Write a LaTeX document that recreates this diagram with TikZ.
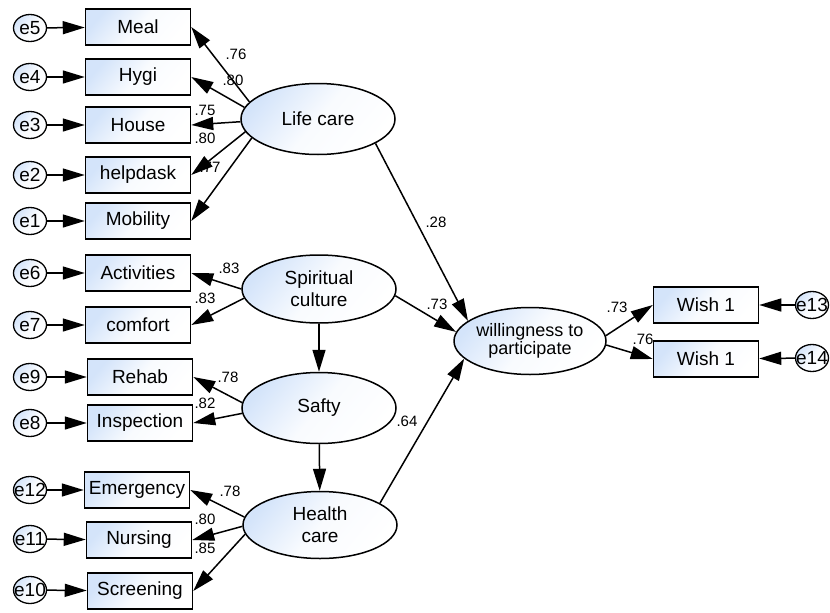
\documentclass[tikz,border=0pt]{standalone}
\usepackage{fontspec}
\setmainfont{Liberation Sans}
\usetikzlibrary{arrows.meta,shapes.geometric}
\definecolor{amosblue}{RGB}{212,228,250}
\tikzset{
  amosshade/.style={top color=amosblue, bottom color=white, middle color=amosblue!15!white,
    shading angle=50},
  obsvar/.style={draw=black, line width=1.5pt, amosshade,
    minimum width=105pt, minimum height=36pt, inner sep=0pt, font=\fontsize{19}{21}\selectfont},
  latvar/.style={ellipse, draw=black, line width=1.5pt, amosshade,
    minimum width=154pt, minimum height=71pt, inner sep=0pt, align=center,
    font=\fontsize{19}{22}\selectfont},
  errvar/.style={ellipse, draw=black, line width=1.3pt, amosshade,
    minimum width=33pt, minimum height=27pt, inner sep=0pt,
    label={[font=\fontsize{19}{21}\selectfont, inner sep=0pt]center:#1}},
  regarrow/.style={-{Triangle[length=22pt,width=13pt]}, line width=1.5pt},
  coef/.style={font=\fontsize{15}{17}\selectfont, inner sep=0pt}
}
\begin{document}
\begin{tikzpicture}[x=1pt,y=-1pt]
            \useasboundingbox (0,0) rectangle (830,613);
            
            % Latent variables
            \node [latvar] (life) at (318,119) {Life care};
            \node [latvar, minimum height=68pt] (spirit) at (319,289) {Spiritual\\culture};
            \node [latvar] (safty) at (319,408) {Safty};
            \node [latvar, minimum height=67pt] (health) at (320,525) {Health\\care};
            \node [latvar, minimum width=152pt, minimum height=67pt, font=\fontsize{18}{18}\selectfont]
              (will) at (530,341) {willingness to\\participate};
            
            % Indicators of Life care
            \node [obsvar] (meal) at (138,27) {Meal};
            \node [obsvar] (hygi) at (138,77) {Hygi};
            \node [obsvar] (house) at (138,125) {House};
            \node [obsvar] (helpdask) at (138,175) {helpdask};
            \node [obsvar] (mobility) at (138,221) {Mobility};
            
            % Indicators of Spiritual culture
            \node [obsvar] (activities) at (138,273) {Activities};
            \node [obsvar] (comfort) at (138,325) {comfort};
            
            % Indicators of Safty
            \node [obsvar] (rehab) at (140,377) {Rehab};
            \node [obsvar] (inspection) at (140,423) {Inspection};
            
            % Indicators of Health care
            \node [obsvar] (emergency) at (137,490) {Emergency};
            \node [obsvar] (nursing) at (139,540) {Nursing};
            \node [obsvar] (screening) at (140,591) {Screening};
            
            % Indicators of willingness
            \node [obsvar] (wishA) at (706,305) {Wish 1};
            \node [obsvar] (wishB) at (706,359) {Wish 1};
            
            % Error terms
            \node [errvar=e5] (e5) at (30,28) {};
            \node [errvar=e4] (e4) at (30,77) {};
            \node [errvar=e3] (e3) at (30,125) {};
            \node [errvar=e2] (e2) at (30,175) {};
            \node [errvar=e1] (e1) at (30,221) {};
            \node [errvar=e6] (e6) at (30,273) {};
            \node [errvar=e7] (e7) at (30,325) {};
            \node [errvar=e9] (e9) at (30,377) {};
            \node [errvar=e8] (e8) at (30,423) {};
            \node [errvar=e12] (e12) at (30,490) {};
            \node [errvar=e11] (e11) at (30,539) {};
            \node [errvar=e10] (e10) at (30,590) {};
            \node [errvar=e13] (e13) at (812,305) {};
            \node [errvar=e14] (e14) at (812,358) {};
            
            % Error arrows
            \foreach \e/\v in {e5/meal,e4/hygi,e3/house,e2/helpdask,e1/mobility,
                               e6/activities,e7/comfort,e9/rehab,e8/inspection,
                               e12/emergency,e11/nursing,e10/screening,e13/wishA,e14/wishB}
              \draw [regarrow] (\e) -- (\v);
            
            % Loadings of Life care
            \draw [regarrow] (life.166) -- (meal.east);
            \draw [regarrow] (life.171) -- (hygi.east);
            \draw [regarrow] (life.182) -- (house.east);
            \draw [regarrow] (life.190) -- (helpdask.east);
            \draw [regarrow] (life.196) -- (mobility.east);
            
            % Loadings of Spiritual culture, Safty, Health care
            \draw [regarrow] (spirit.180) -- (activities.east);
            \draw [regarrow] (spirit.187) -- (comfort.east);
            \draw [regarrow] (safty.176) -- (rehab.east);
            \draw [regarrow] (safty.184) -- (inspection.east);
            \draw [regarrow] (health.174) -- (emergency.east);
            \draw [regarrow] (health.181) -- (nursing.east);
            \draw [regarrow] (health.187) -- (screening.east);
            
            % Structural paths
            \draw [regarrow] (spirit) -- (safty);
            \draw [regarrow] (safty) -- (health);
            \draw [regarrow] (life.-23) -- (will.162);
            \draw [regarrow] (spirit.-5) -- (will.173);
            \draw [regarrow] (health.20) -- (will.-165);
            \draw [regarrow] (will.4) -- (wishA.west);
            \draw [regarrow] (will.-3) -- (wishB.west);
            
            % Coefficients
            \node [coef] (c1) at (236,54) {.76};
            \node [coef] (c2) at (233,80) {.80};
            \node [coef] (c3) at (205,110) {.75};
            \node [coef] (c4) at (205,138) {.80};
            \node [coef] (c5) at (210,167) {.77};
            \node [coef] (c6) at (229,268) {.83};
            \node [coef] (c7) at (205,298) {.83};
            \node [coef] (c8) at (228,377) {.78};
            \node [coef] (c9) at (205,403) {.82};
            \node [coef] (c10) at (230,491) {.78};
            \node [coef] (c11) at (205,519) {.80};
            \node [coef] (c12) at (205,548) {.85};
            \node [coef] (c13) at (436,222) {.28};
            \node [coef] (c14) at (437,304) {.73};
            \node [coef] (c15) at (407,421) {.64};
            \node [coef] (c16) at (617,307) {.73};
            \node [coef] (c17) at (643,339) {.76};
        \end{tikzpicture}
\end{document}
